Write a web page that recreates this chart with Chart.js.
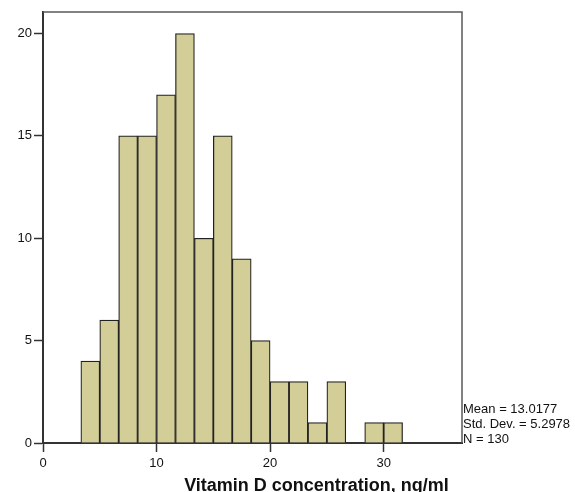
<!DOCTYPE html>
<html><head><meta charset="utf-8">
<script src="https://cdn.jsdelivr.net/npm/chart.js@4/dist/chart.umd.min.js"></script>
<style>html,body{margin:0;padding:0;background:#fff}#wrap{width:575px;height:492px;position:relative}</style>
</head><body><div id="wrap"><canvas id="c" width="575" height="492"></canvas></div>
<script>
// Histogram bins (ng/ml) and counts
const binEdges = [3.333, 5, 6.667, 8.333, 10, 11.667, 13.333, 15, 16.667, 18.333, 20, 21.667, 23.333, 25, 26.667, 28.333, 30, 31.667];
const counts   = [4, 6, 15, 15, 17, 20, 10, 15, 9, 5, 3, 3, 1, 3, 0, 1, 1];
const xTicks = [0, 10, 20, 30];
const yTicks = [0, 5, 10, 15, 20];
const xAxisTitle = 'Vitamin D concentration, ng/ml';
const statsLines = ['Mean = 13.0177', 'Std. Dev. = 5.2978', 'N = 130'];

const FONT = '"Liberation Sans", Arial, Helvetica, sans-serif';
Chart.defaults.font.family = FONT;
Chart.defaults.color = '#111';

const points = counts.map((c, i) => ({ x: (binEdges[i] + binEdges[i + 1]) / 2, y: c }));

const annot = {
  id: 'annot',
  afterDraw(chart) {
    const { ctx, chartArea: a } = chart;
    ctx.save();
    ctx.strokeStyle = '#5a5a5a';
    ctx.lineWidth = 1.5;
    ctx.beginPath();
    ctx.moveTo(a.left, a.top);
    ctx.lineTo(a.right, a.top);
    ctx.lineTo(a.right, a.bottom);
    ctx.stroke();
    ctx.fillStyle = '#111';
    ctx.font = '13px ' + FONT;
    ctx.textAlign = 'left';
    ctx.textBaseline = 'alphabetic';
    statsLines.forEach((t, i) => ctx.fillText(t, a.right + 1, a.bottom - 30 + i * 15.2));
    ctx.font = 'bold 18px ' + FONT;
    ctx.textAlign = 'center';
    ctx.fillText(xAxisTitle, a.right - 145.5, 491);
    ctx.restore();
  }
};

new Chart(document.getElementById('c'), {
  type: 'bar',
  data: {
    datasets: [{
      data: points,
      backgroundColor: '#d3ce97',
      borderColor: '#222',
      borderWidth: 1.25,
      barPercentage: 1,
      categoryPercentage: 1
    }]
  },
  options: {
    responsive: false,
    animation: false,
    devicePixelRatio: 1,
    layout: { padding: { left: 0, top: 12, right: 113, bottom: 0 } },
    plugins: { legend: { display: false }, tooltip: { enabled: false }, title: { display: false } },
    scales: {
      x: {
        type: 'linear',
        min: 0, max: 36.9,
        offset: false,
        afterFit: s => { s.height = 49; },
        afterBuildTicks: s => { s.ticks = xTicks.map(v => ({ value: v })); },
        ticks: { font: { size: 13 }, color: '#111', padding: 4, maxRotation: 0, includeBounds: false },
        grid: { display: true, drawOnChartArea: false, offset: false, tickLength: 9, tickColor: '#333', tickWidth: 1.5 },
        border: { color: '#333', width: 2 }
      },
      y: {
        min: 0, max: 21.05,
        afterFit: s => { s.width = 43; },
        afterBuildTicks: s => { s.ticks = yTicks.map(v => ({ value: v })); },
        ticks: { font: { size: 13 }, color: '#111', padding: 2, includeBounds: false },
        grid: { display: true, drawOnChartArea: false, tickLength: 9, tickColor: '#333', tickWidth: 1.5 },
        border: { color: '#333', width: 2 }
      }
    }
  },
  plugins: [annot]
});
</script>
</body></html>
